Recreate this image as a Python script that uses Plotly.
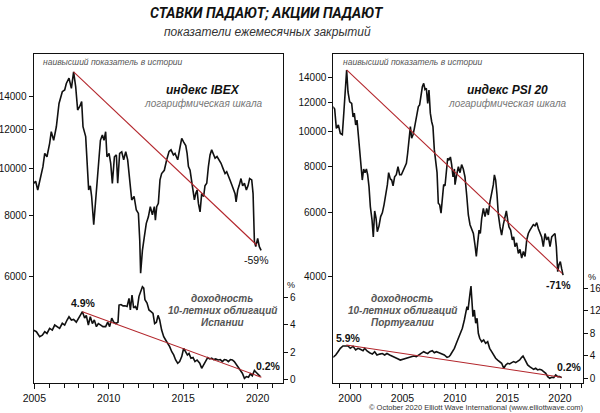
import plotly.graph_objects as go

# ---------------- data ----------------
ibex_years = [2004.95, 2005.09, 2005.23, 2005.41, 2005.58, 2005.70, 2005.85, 2006.03, 2006.14, 2006.30,
              2006.48, 2006.66, 2006.88, 2007.04, 2007.15, 2007.33, 2007.49, 2007.64, 2007.78, 2007.91,
              2008.05, 2008.18, 2008.27, 2008.45, 2008.54, 2008.65, 2008.76, 2008.85, 2008.99, 2009.12,
              2009.28, 2009.44, 2009.57, 2009.68, 2009.79, 2009.88, 2010.02, 2010.13, 2010.24, 2010.38,
              2010.51, 2010.60, 2010.73, 2010.87, 2011.00, 2011.14, 2011.27, 2011.41, 2011.54, 2011.70,
              2011.85, 2011.99, 2012.08, 2012.14, 2012.26, 2012.39, 2012.52, 2012.66, 2012.79, 2012.93,
              2013.06, 2013.13, 2013.22, 2013.33, 2013.44, 2013.55, 2013.73, 2013.89, 2014.05, 2014.18,
              2014.34, 2014.45, 2014.63, 2014.79, 2014.90, 2015.03, 2015.17, 2015.26, 2015.35, 2015.46,
              2015.57, 2015.68, 2015.75, 2015.84, 2015.93, 2016.02, 2016.13, 2016.24, 2016.37, 2016.46,
              2016.58, 2016.69, 2016.80, 2016.91, 2017.02, 2017.14, 2017.27, 2017.40, 2017.54, 2017.67,
              2017.81, 2017.92, 2018.03, 2018.14, 2018.26, 2018.37, 2018.48, 2018.55, 2018.66, 2018.75,
              2018.88, 2018.99, 2019.11, 2019.24, 2019.35, 2019.46, 2019.60, 2019.69, 2019.78, 2019.87,
              2020.00, 2020.11, 2020.23]
ibex_values = [9310, 9400, 9020, 9590, 10070, 10720, 10550, 11240, 11870, 11400,
               12150, 13560, 14330, 14450, 14900, 15270, 14560, 15740, 14660, 13150,
               13370, 13680, 12160, 11600, 10400, 9020, 9200, 8750, 7660, 8610,
               10070, 11400, 11690, 11400, 11870, 10550, 10720, 10230, 9310, 10550,
               10640, 9310, 10720, 10800, 10400, 10800, 10400, 9460, 8610, 8750,
               8210, 8080, 7130, 6100, 6790, 7240, 7710, 7950, 8340, 8030,
               8340, 7830, 8340, 8470, 9460, 9750, 9900, 10400, 10820, 10900,
               10640, 10720, 10400, 11060, 11500, 11300, 11120, 10720, 10070, 9900,
               9460, 9020, 8610, 8870, 9020, 8470, 8140, 8870, 8750, 9200,
               9310, 10070, 10640, 10900, 10640, 10480, 10560, 10400, 10230, 9990,
               9750, 9830, 9590, 9460, 9250, 9020, 8870, 8530, 9020, 9200,
               9520, 9200, 9310, 9020, 9200, 9520, 9460, 8870, 7080, 6910,
               7180, 6910, 6790]
ibex_trend_years = [2007.64, 2019.96]
ibex_trend_values = [15740, 6950]

spain_years = [2004.95, 2005.14, 2005.36, 2005.54, 2005.70, 2005.85, 2006.03, 2006.21, 2006.37, 2006.52,
               2006.70, 2006.88, 2007.04, 2007.20, 2007.33, 2007.49, 2007.64, 2007.82, 2007.98, 2008.11,
               2008.23, 2008.38, 2008.49, 2008.63, 2008.76, 2008.90, 2009.03, 2009.17, 2009.30, 2009.44,
               2009.61, 2009.79, 2009.93, 2010.06, 2010.20, 2010.33, 2010.47, 2010.62, 2010.69, 2010.82,
               2010.96, 2011.09, 2011.23, 2011.36, 2011.45, 2011.56, 2011.67, 2011.79, 2011.90, 2012.03,
               2012.12, 2012.26, 2012.35, 2012.43, 2012.57, 2012.70, 2012.84, 2012.97, 2013.08, 2013.20,
               2013.31, 2013.42, 2013.55, 2013.69, 2013.82, 2013.96, 2014.09, 2014.23, 2014.36, 2014.49,
               2014.63, 2014.76, 2014.90, 2015.03, 2015.17, 2015.28, 2015.39, 2015.52, 2015.66, 2015.79,
               2015.93, 2016.11, 2016.24, 2016.38, 2016.51, 2016.64, 2016.78, 2016.91, 2017.05, 2017.18,
               2017.34, 2017.49, 2017.63, 2017.76, 2017.90, 2018.03, 2018.17, 2018.30, 2018.43, 2018.57,
               2018.70, 2018.84, 2018.97, 2019.11, 2019.24, 2019.38, 2019.51, 2019.64, 2019.78, 2019.91,
               2020.05, 2020.18]
spain_yield = [3.62, 3.5, 3.13, 3.25, 3.5, 3.37, 3.75, 3.62, 3.99, 3.87,
               3.75, 4.12, 3.99, 4.36, 4.60, 4.36, 4.4, 4.2, 4.5, 4.85,
               4.97, 4.5, 4.7, 3.99, 4.6, 4.1, 4.36, 3.87, 4.1, 4.0,
               3.87, 3.87, 4.2, 3.87, 4.5, 4.2, 4.1, 4.2, 5.46, 5.5,
               5.4, 5.4, 5.35, 5.95, 5.1, 6.2, 5.25, 5.35, 5.1, 6.1,
               6.45, 6.8, 6.7, 5.85, 5.6, 5.1, 4.97, 4.85, 4.1, 4.2,
               4.7, 4.36, 3.62, 3.13, 2.89, 2.65, 2.40, 2.03, 1.79, 1.42,
               1.18, 1.3, 1.67, 2.28, 2.03, 1.79, 1.91, 1.55, 1.6, 1.3,
               1.42, 1.18, 0.81, 1.06, 1.3, 1.6, 1.5, 1.55, 1.45, 1.5,
               1.42, 1.45, 1.3, 1.45, 1.42, 1.3, 1.45, 1.42, 1.3, 1.06,
               0.9, 0.69, 0.45, 0.07, 0.2, 0.15, 0.4, 0.25, 0.65, 0.5,
               0.33, 0.2]
spain_trend_years = [2008.23, 2020.25]
spain_trend_yield = [4.97, 0.15]

psi_years = [1998.38, 1998.54, 1998.70, 1998.89, 1999.08, 1999.27, 1999.43, 1999.56, 1999.68, 1999.81,
             1999.97, 2000.16, 2000.29, 2000.41, 2000.54, 2000.67, 2000.79, 2000.92, 2001.05, 2001.17,
             2001.30, 2001.43, 2001.56, 2001.68, 2001.81, 2001.94, 2002.10, 2002.22, 2002.35, 2002.48,
             2002.60, 2002.76, 2002.92, 2003.08, 2003.24, 2003.40, 2003.56, 2003.68, 2003.84, 2003.97,
             2004.10, 2004.25, 2004.41, 2004.57, 2004.73, 2004.89, 2005.05, 2005.21, 2005.37, 2005.49,
             2005.62, 2005.75, 2005.87, 2006.00, 2006.13, 2006.25, 2006.38, 2006.51, 2006.63, 2006.76,
             2006.89, 2007.02, 2007.14, 2007.27, 2007.40, 2007.52, 2007.65, 2007.78, 2007.90, 2008.03,
             2008.16, 2008.29, 2008.41, 2008.54, 2008.67, 2008.79, 2008.92, 2009.05, 2009.17, 2009.30,
             2009.43, 2009.56, 2009.68, 2009.81, 2009.94, 2010.00, 2010.16, 2010.32, 2010.48, 2010.63,
             2010.79, 2010.95, 2011.11, 2011.27, 2011.43, 2011.59, 2011.75, 2011.90, 2012.03, 2012.16,
             2012.29, 2012.41, 2012.54, 2012.70, 2012.86, 2013.02, 2013.17, 2013.33, 2013.49, 2013.65,
             2013.75, 2013.87, 2014.00, 2014.13, 2014.29, 2014.44, 2014.60, 2014.76, 2014.89, 2015.02,
             2015.14, 2015.30, 2015.46, 2015.59, 2015.71, 2015.87, 2016.03, 2016.19, 2016.35, 2016.51,
             2016.67, 2016.83, 2016.98, 2017.14, 2017.30, 2017.46, 2017.62, 2017.78, 2017.94, 2018.10,
             2018.25, 2018.41, 2018.57, 2018.73, 2018.89, 2019.05, 2019.21, 2019.37, 2019.52, 2019.65,
             2019.78, 2019.90, 2020.03, 2020.16, 2020.29]
psi_values = [11670, 11500, 10180, 10400, 9860, 9780, 11420, 12690, 14700, 12800,
              12030, 11900, 10940, 11200, 10400, 10720, 9860, 9060, 8170, 7350,
              7880, 7700, 7880, 7600, 7050, 6210, 5710, 5140, 6050, 5780,
              5310, 5500, 5840, 5980, 6290, 6700, 7140, 7700, 7400, 7350,
              7090, 7500, 7600, 7990, 7600, 7600, 7780, 7990, 8170, 8700,
              9460, 10290, 9570, 9780, 10180, 10610, 11070, 11670, 11800, 12420,
              13220, 13510, 13000, 13100, 11900, 12950, 11200, 10610, 10290, 8900,
              8170, 7700, 6350, 6290, 5970, 6700, 7140, 7090, 7880, 8430,
              8330, 8500, 8100, 7500, 7880, 7140, 7600, 7990, 7700, 8100,
              7880, 7500, 6700, 5900, 5550, 5360, 5250, 4890, 4545, 4950,
              5360, 5250, 5770, 6145, 5840, 6145, 5900, 6410, 6700, 7140,
              7590, 7350, 6700, 5900, 5470, 5200, 5550, 5900, 6050, 5710,
              5470, 5360, 5040, 5140, 4830, 4950, 4630, 4750, 4495, 4690,
              4545, 5040, 5250, 5360, 5470, 5550, 5510, 5620, 5410, 5250,
              5140, 4830, 5250, 5040, 5140, 4830, 5140, 5200, 5250, 4830,
              4130, 4310, 4400, 4200, 4040]
psi_trend_years = [1999.68, 2020.20]
psi_trend_values = [14700, 4085]

portugal_years = [1998.38, 1998.64, 1998.86, 1999.08, 1999.33, 1999.59, 1999.81, 2000.03, 2000.29, 2000.54,
                  2000.76, 2000.98, 2001.24, 2001.40, 2001.62, 2001.87, 2002.13, 2002.35, 2002.57, 2002.83,
                  2003.08, 2003.30, 2003.52, 2003.78, 2004.03, 2004.29, 2004.54, 2004.79, 2005.05, 2005.30,
                  2005.56, 2005.81, 2006.06, 2006.32, 2006.57, 2006.83, 2007.02, 2007.21, 2007.40, 2007.59,
                  2007.84, 2008.03, 2008.22, 2008.48, 2008.73, 2008.98, 2009.24, 2009.43, 2009.56, 2009.75,
                  2009.94, 2010.13, 2010.32, 2010.51, 2010.70, 2010.89, 2011.02, 2011.14, 2011.24, 2011.33,
                  2011.43, 2011.52, 2011.62, 2011.71, 2011.84, 2011.97, 2012.10, 2012.22, 2012.35, 2012.54,
                  2012.73, 2012.92, 2013.11, 2013.30, 2013.49, 2013.68, 2013.87, 2014.06, 2014.25, 2014.44,
                  2014.64, 2014.83, 2015.02, 2015.21, 2015.40, 2015.59, 2015.78, 2015.97, 2016.16, 2016.35,
                  2016.48, 2016.60, 2016.73, 2016.92, 2017.11, 2017.30, 2017.49, 2017.68, 2017.87, 2018.06,
                  2018.25, 2018.44, 2018.64, 2018.83, 2019.02, 2019.21, 2019.40, 2019.59, 2019.78, 2019.97,
                  2020.16]
portugal_yield = [3.73, 4.14, 4.73, 5.33, 5.74, 5.67, 5.74, 5.33, 5.67, 5.03,
                  5.33, 5.15, 4.91, 5.33, 4.85, 4.55, 4.3, 4.73, 4.14, 4.3,
                  4.4, 4.14, 4.4, 4.14, 3.96, 3.73, 3.49, 3.25, 3.37, 3.49,
                  3.73, 3.85, 3.96, 3.85, 4.14, 4.55, 4.73, 4.55, 4.4, 4.73,
                  4.91, 4.55, 4.73, 4.55, 4.4, 4.14, 3.73, 3.85, 4.14, 4.73,
                  5.33, 6.22, 7.11, 8.0, 8.89, 10.36, 11.56, 12.73, 12.14, 14.22,
                  15.11, 16.41, 14.22, 10.95, 12.14, 9.78, 10.67, 8.0, 7.11, 6.51,
                  6.81, 6.22, 6.51, 5.33, 4.73, 4.14, 3.56, 3.25, 2.96, 2.67,
                  1.78, 2.37, 2.67, 2.55, 2.78, 2.96, 2.78, 2.96, 3.25, 3.73,
                  3.96, 3.56, 2.96, 2.37, 2.07, 1.78, 1.6, 1.78, 1.48, 1.6,
                  1.48, 1.19, 0.89, 0.3, 0.0, 0.18, 0.12, 0.59, 0.3, 0.3,
                  0.12]
portugal_trend_years = [1999.65, 2020.13]
portugal_trend_yield = [5.92, 0.18]

ibex_ticks = [6000, 8000, 10000, 12000, 14000]
psi_ticks = [4000, 6000, 8000, 10000, 12000, 14000]
spain_ticks = [0, 2, 4, 6]
portugal_ticks = [0, 4, 8, 12, 16]
left_year_ticks = [2005, 2010, 2015, 2020]
right_year_ticks = [2000, 2005, 2010, 2015, 2020]

# ---------------- styling ----------------
W, H = 600, 413
BLACK = "#111111"
RED = "#b3262c"
FONT = "Liberation Sans, Arial, sans-serif"


def px(x, y):
    return x / W, 1 - y / H


fig = go.Figure()
line_kw = dict(mode="lines", line=dict(color=BLACK, width=1.6), hoverinfo="skip", showlegend=False)
red_kw = dict(mode="lines", line=dict(color=RED, width=1.1), hoverinfo="skip", showlegend=False)

fig.add_trace(go.Scatter(x=ibex_years, y=ibex_values, xaxis="x", yaxis="y", **line_kw))
fig.add_trace(go.Scatter(x=spain_years, y=spain_yield, xaxis="x", yaxis="y2", **line_kw))
fig.add_trace(go.Scatter(x=ibex_trend_years, y=ibex_trend_values, xaxis="x", yaxis="y", **red_kw))
fig.add_trace(go.Scatter(x=spain_trend_years, y=spain_trend_yield, xaxis="x", yaxis="y2", **red_kw))

fig.add_trace(go.Scatter(x=psi_years, y=psi_values, xaxis="x2", yaxis="y3", **line_kw))
fig.add_trace(go.Scatter(x=portugal_years, y=portugal_yield, xaxis="x2", yaxis="y4", **line_kw))
fig.add_trace(go.Scatter(x=psi_trend_years, y=psi_trend_values, xaxis="x2", yaxis="y3", **red_kw))
fig.add_trace(go.Scatter(x=portugal_trend_years, y=portugal_trend_yield, xaxis="x2", yaxis="y4", **red_kw))

ydom = [1 - 383 / H, 1 - 54 / H]
tickfont = dict(family=FONT, size=10.5, color=BLACK)
ytickfont = dict(family=FONT, size=10, color=BLACK)
common_x = dict(showline=True, mirror=True, linecolor=BLACK, linewidth=1, ticks="outside", ticklen=5,
                tickcolor=BLACK, showgrid=False, zeroline=False, tickfont=tickfont, automargin=False,
                fixedrange=True)
common_y = dict(showline=True, mirror=True, linecolor=BLACK, linewidth=1, ticks="outside", ticklen=4,
                tickcolor=BLACK, showgrid=False, zeroline=False, tickfont=ytickfont, automargin=False,
                fixedrange=True)
right_y = dict(showline=False, ticks="outside", ticklen=4, tickcolor=BLACK, showgrid=False,
               zeroline=False, tickfont=ytickfont, automargin=False, fixedrange=True, side="right")

fig.update_layout(
    template="none",
    width=W, height=H,
    margin=dict(l=0, r=0, t=0, b=0),
    paper_bgcolor="white", plot_bgcolor="white",
    font=dict(family=FONT, color=BLACK),
    showlegend=False,
    xaxis=dict(domain=[33.5 / W, 283 / W], range=[2004.946, 2021.70], anchor="y",
               tickvals=left_year_ticks, ticktext=[str(v) for v in left_year_ticks],
               minor=dict(dtick=1, tick0=2005, ticks="outside", ticklen=4, tickcolor=BLACK, showgrid=False),
               **common_x),
    yaxis=dict(domain=ydom, type="log", range=[3.5606, 4.2334], anchor="x",
               tickvals=ibex_ticks, ticktext=[str(v) for v in ibex_ticks], **common_y),
    yaxis2=dict(overlaying="y", anchor="x", range=[-0.272, 23.92],
                tickvals=spain_ticks, ticktext=[str(v) for v in spain_ticks], **right_y),
    xaxis2=dict(domain=[333.3 / W, 582.7 / W], range=[1998.41, 2022.16], anchor="y3",
                tickvals=right_year_ticks, ticktext=[str(v) for v in right_year_ticks],
                minor=dict(dtick=1, tick0=2000, ticks="outside", ticklen=4, tickcolor=BLACK, showgrid=False),
                **common_x),
    yaxis3=dict(domain=ydom, type="log", range=[3.31143, 4.2109], anchor="x2",
                tickvals=psi_ticks, ticktext=[str(v) for v in psi_ticks], **common_y),
    yaxis4=dict(overlaying="y3", anchor="x2", range=[-0.836, 57.65],
                tickvals=portugal_ticks, ticktext=[str(v) for v in portugal_ticks], **right_y),
)

annotations = []


def note(text, x, y, size, color=BLACK, xanchor="center", family=FONT):
    ax, ay = px(x, y)
    annotations.append(dict(text=text, x=ax, y=ay, xref="paper", yref="paper", xanchor=xanchor,
                            yanchor="middle", showarrow=False,
                            font=dict(family=family, size=size, color=color)))


TITLE_FONT = "Roboto, Liberation Sans, sans-serif"
note("<b><i>СТАВКИ ПАДАЮТ; АКЦИИ ПАДАЮТ</i></b>", 267, 13, 14, family=TITLE_FONT)
note("<i>показатели ежемесячных закрытий</i>", 267, 32, 12, color="#333333")

# left panel texts
note("<i>наивысший показатель в истории</i>", 41, 62, 8.5, color="#555555", xanchor="left")
note("<b><i>индекс IBEX</i></b>", 203, 90, 12)
note("<i>логарифмическая шкала</i>", 203, 104, 10, color="#777777")
note("-59%", 256, 260, 10.5)
note("<b>4.9%</b>", 83, 303, 10.5)
note("<b><i>доходность</i></b>", 222, 298, 10, color="#555555")
note("<b><i>10-летних облигаций</i></b>", 222, 310, 10, color="#555555")
note("<b><i>Испании</i></b>", 222, 322, 10, color="#555555")
note("<b>0.2%</b>", 268, 366, 10.5)
note("%", 291, 285, 9)

# right panel texts
note("<i>наивысший показатель в истории</i>", 341, 62, 8.5, color="#555555", xanchor="left")
note("<b><i>индекс PSI 20</i></b>", 507, 90, 12)
note("<i>логарифмическая шкала</i>", 507, 104, 10, color="#777777")
note("<b>-71%</b>", 558, 285, 10.5)
note("<b><i>доходность</i></b>", 402, 298, 10, color="#555555")
note("<b><i>10-летних облигаций</i></b>", 402, 310, 10, color="#555555")
note("<b><i>Португалии</i></b>", 402, 322, 10, color="#555555")
note("<b>5.9%</b>", 348, 338, 10.5)
note("<b>0.2%</b>", 569, 367, 10.5)
note("%", 592, 277, 9)

note("© October 2020 Elliott Wave International (www.elliottwave.com)", 476, 407, 7.5, color="#333333")

fig.update_layout(annotations=annotations)
fig.write_html("out.html", config={"displayModeBar": False, "staticPlot": True},
               post_script="document.body.style.margin='0';")
